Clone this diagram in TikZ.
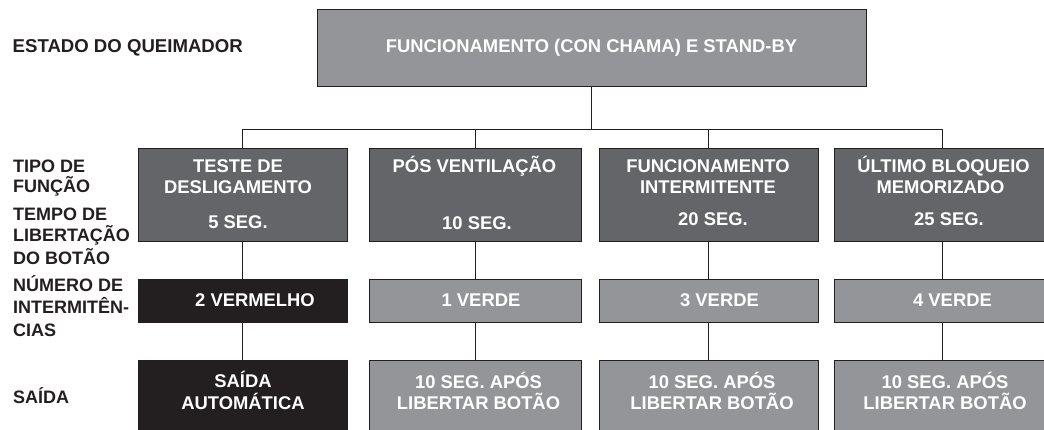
\documentclass[tikz,border=0pt]{standalone}
\usepackage{fontspec}
\setmainfont{Liberation Sans}
\definecolor{lgray}{RGB}{147,149,152}
\definecolor{dgray}{RGB}{100,101,104}
\definecolor{nblack}{RGB}{35,31,32}
\begin{document}
\begin{tikzpicture}[x=1pt,y=-1pt,
  bx/.style={draw=nblack, line width=0.9pt, inner sep=0pt},
  rowA/.style={bx, fill=dgray, minimum height=93pt},
  rowB/.style={bx, fill=lgray, minimum height=43pt},
  rowC/.style={bx, fill=lgray, minimum height=80pt},
  blk/.style={fill=nblack},
  conn/.style={draw=nblack, line width=0.8pt},
  txt/.style={text=white, font=\fontsize{18.4}{20}\selectfont\bfseries, anchor=base, inner sep=0pt},
  lbl/.style={text=nblack, font=\fontsize{18}{20}\selectfont\bfseries, anchor=base west, inner sep=0pt}]
\useasboundingbox (0,0) rectangle (1044,430);
\clip (0,0) rectangle (1044,430);

% top box
\node[bx, fill=lgray, minimum width=549pt, minimum height=77pt] (top) at (591.5,47.5) {};
\node[txt] (toptxt) at (591.5,53) {FUNCIONAMENTO (CON CHAMA) E STAND-BY};

% row A boxes
\node[rowA, minimum width=209pt] (a1) at (242.5,194.5) {};
\node[rowA, minimum width=212pt] (a2) at (475,194.5) {};
\node[rowA, minimum width=219pt] (a3) at (708.5,194.5) {};
\node[rowA, minimum width=216pt] (a4) at (942,194.5) {};

% row B boxes
\node[rowB, blk, minimum width=209pt] (b1) at (242.5,300.5) {};
\node[rowB, minimum width=212pt] (b2) at (475,300.5) {};
\node[rowB, minimum width=219pt] (b3) at (708.5,300.5) {};
\node[rowB, minimum width=216pt] (b4) at (942,300.5) {};

% row C boxes
\node[rowC, blk, minimum width=209pt] (c1) at (242.5,400) {};
\node[rowC, minimum width=212pt] (c2) at (475,400) {};
\node[rowC, minimum width=219pt] (c3) at (708.5,400) {};
\node[rowC, minimum width=216pt] (c4) at (942,400) {};

% connectors
\coordinate (hub) at (591.5,129);
\draw[conn] (top.south) -- (hub);
\draw[conn] (a1.north) -- (a1.north |- hub) -- (a4.north |- hub) -- (a4.north);
\draw[conn] (a2.north) -- (a2.north |- hub);
\draw[conn] (a3.north) -- (a3.north |- hub);
\foreach \i in {1,2,3,4}{
  \draw[conn] (a\i.south) -- (b\i.north);
  \draw[conn] (b\i.south) -- (c\i.north);
}

% row A texts
\node[txt] (a1t1) at (238,173) {TESTE DE};
\node[txt] (a1t2) at (238,193.5) {DESLIGAMENTO};
\node[txt] (a1t3) at (238,229) {5 SEG.};
\node[txt] (a2t1) at (474.5,173) {PÓS VENTILAÇÃO};
\node[txt] (a2t3) at (477,229.5) {10 SEG.};
\node[txt] (a3t1) at (708,173) {FUNCIONAMENTO};
\node[txt] (a3t2) at (708,193.5) {INTERMITENTE};
\node[txt] (a3t3) at (713,225.5) {20 SEG.};
\node[txt] (a4t1) at (943.5,173) {ÚLTIMO BLOQUEIO};
\node[txt] (a4t2) at (940.5,193.5) {MEMORIZADO};
\node[txt] (a4t3) at (949,226) {25 SEG.};

% row B texts
\node[txt] (b1t) at (255,306) {2 VERMELHO};
\node[txt] (b2t) at (481,306) {1 VERDE};
\node[txt] (b3t) at (719.5,306) {3 VERDE};
\node[txt] (b4t) at (952.5,306) {4 VERDE};

% row C texts
\node[txt] (c1t1) at (243,387.5) {SAÍDA};
\node[txt] (c1t2) at (243,409.5) {AUTOMÁTICA};
\node[txt] (c2t1) at (478.5,388) {10 SEG. APÓS};
\node[txt] (c2t2) at (478.5,409.5) {LIBERTAR BOTÃO};
\node[txt] (c3t1) at (712,388) {10 SEG. APÓS};
\node[txt] (c3t2) at (712,409.5) {LIBERTAR BOTÃO};
\node[txt] (c4t1) at (945,388) {10 SEG. APÓS};
\node[txt] (c4t2) at (945,409.5) {LIBERTAR BOTÃO};

% left labels
\node[lbl, font=\fontsize{18.6}{20}\selectfont\bfseries] (l1) at (12.5,53) {ESTADO DO QUEIMADOR};
\node[lbl] (l2) at (13,173) {TIPO DE};
\node[lbl] (l3) at (13,193) {FUNÇÃO};
\node[lbl] (l4) at (13,220.5) {TEMPO DE};
\node[lbl] (l5) at (13,242) {LIBERTAÇÃO};
\node[lbl] (l6) at (13,265) {DO BOTÃO};
\node[lbl] (l7) at (13,292) {NÚMERO DE};
\node[lbl] (l8) at (13,313.5) {INTERMITÊN-};
\node[lbl] (l9) at (13,337) {CIAS};
\node[lbl] (l10) at (13,403) {SAÍDA};
\end{tikzpicture}
\end{document}
